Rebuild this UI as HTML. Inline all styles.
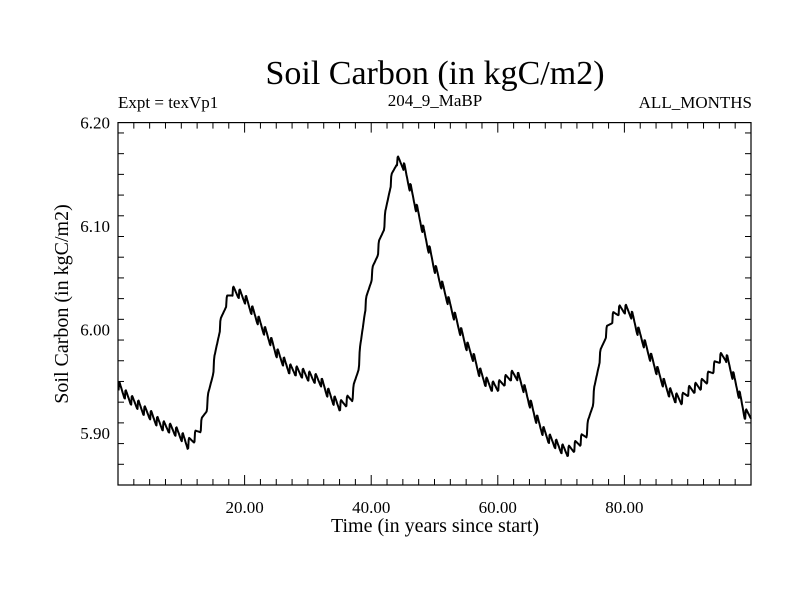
<!DOCTYPE html>
<html><head><meta charset="utf-8"><style>
body{margin:0;background:#fff;}
svg{display:block;font-family:"Liberation Serif",serif;}
</style></head><body>
<svg id="chart" width="800" height="600" viewBox="0 0 800 600" xmlns="http://www.w3.org/2000/svg">
<rect width="800" height="600" fill="#fff"/>
<text x="435" y="84" font-size="34" text-anchor="middle">Soil Carbon (in kgC/m2)</text>
<text x="118" y="108" font-size="17">Expt = texVp1</text>
<text x="435" y="106" font-size="17" text-anchor="middle">204_9_MaBP</text>
<text x="752" y="108" font-size="17" text-anchor="end">ALL_MONTHS</text>
<text transform="translate(68,304) rotate(-90)" font-size="20" text-anchor="middle">Soil Carbon (in kgC/m2)</text>
<text x="435" y="532" font-size="20" text-anchor="middle">Time (in years since start)</text>
<g id="axes"></g>
<path id="series" fill="none" stroke="#000" stroke-width="2" stroke-linejoin="round"/>
</svg>
<script>
const yearStart = 0;
const annualValues = [5.946,5.938,5.932,5.928,5.922,5.918,5.912,5.907,5.905,5.902,
5.897,5.889,5.895,5.905,5.925,5.96,6.0,6.025,6.037,6.035,
6.03,6.02,6.01,6.0,5.99,5.978,5.97,5.962,5.96,5.958,
5.955,5.953,5.95,5.94,5.932,5.926,5.93,5.935,5.965,6.02,
6.05,6.075,6.10,6.14,6.163,6.16,6.14,6.12,6.10,6.08,
6.06,6.045,6.03,6.015,6.0,5.985,5.975,5.96,5.95,5.945,
5.945,5.95,5.955,5.956,5.945,5.93,5.915,5.903,5.895,5.89,
5.885,5.882,5.886,5.892,5.9,5.93,5.97,5.995,6.01,6.018,
6.02,6.016,6.0,5.988,5.975,5.962,5.95,5.94,5.934,5.932,
5.94,5.943,5.946,5.952,5.962,5.972,5.974,5.958,5.94,5.918];
const seasonalAnomaly = [-0.004,0.004,0.005,0.004,0.003,0.002,0.001,0,-0.001,-0.002,-0.003,-0.004];
const xTickValues = [20,40,60,80];
const xTickLabels = ["20.00","40.00","60.00","80.00"];
const yTickValues = [5.90,6.00,6.10,6.20];
const yTickLabels = ["5.90","6.00","6.10","6.20"];

const L=118,R=751,T=122.6,B=485;
const X0=0,X1=100,Y0=5.85,Y1=6.20;
const xs=v=>L+(v-X0)/(X1-X0)*(R-L);
const ys=v=>B-(v-Y0)/(Y1-Y0)*(B-T);
const NS="http://www.w3.org/2000/svg";
const ax=document.getElementById('axes');
function line(x1,y1,x2,y2,name){
  const l=document.createElementNS(NS,'line');
  l.setAttribute('x1',x1);l.setAttribute('y1',y1);l.setAttribute('x2',x2);l.setAttribute('y2',y2);
  l.setAttribute('stroke','#000');l.setAttribute('stroke-width','1');
  
  
  ax.appendChild(l);
}
function text(x,y,s,anchor,name){
  const t=document.createElementNS(NS,'text');
  t.setAttribute('x',x);t.setAttribute('y',y);t.setAttribute('font-size','17');
  t.setAttribute('text-anchor',anchor);t.textContent=s;
  
  
  ax.appendChild(t);
}
const fr=document.createElementNS(NS,'rect');
fr.setAttribute('x',L);fr.setAttribute('y',T);fr.setAttribute('width',R-L);fr.setAttribute('height',B-T);
fr.setAttribute('fill','none');fr.setAttribute('stroke','#000');fr.setAttribute('stroke-width','1.2');


ax.appendChild(fr);
for(let v=2.5;v<X1;v+=2.5){
  const major=Math.abs(v%20)<1e-6;
  const len=major?10:6;
  line(xs(v),B,xs(v),B-len,'x-tick');
  line(xs(v),T,xs(v),T+len,'x-tick-top');
}
for(let v=Y0+0.02;v<Y1-1e-6;v+=0.02){
  const major=Math.abs(Math.round(v*100)%10)<1e-6;
  const len=major?10:6;
  line(L,ys(v),L+len,ys(v),'y-tick');
  line(R,ys(v),R-len,ys(v),'y-tick-right');
}
xTickValues.forEach((v,i)=>text(xs(v),B+28,xTickLabels[i],'middle','x-tick-label'));
yTickValues.forEach((v,i)=>text(L-8,ys(v)+6,yTickLabels[i],'end','y-tick-label'));
function trendAt(t){
  const p=t;
  if(p<=0) return annualValues[0];
  const i=Math.floor(p);
  if(i>=annualValues.length-1) return annualValues[annualValues.length-1];
  const f=p-i;
  return annualValues[i]*(1-f)+annualValues[i+1]*f;
}
let d='';
annualValues.forEach((a,i)=>{
  seasonalAnomaly.forEach((s,m)=>{
    const t=i+(m+1)/12;
    const x=xs(yearStart+t), y=ys(trendAt(t)+s);
    d+=(d?'L':'M')+x.toFixed(1)+','+y.toFixed(1);
  });
});
document.getElementById('series').setAttribute('d',d);
</script>
</body></html>
